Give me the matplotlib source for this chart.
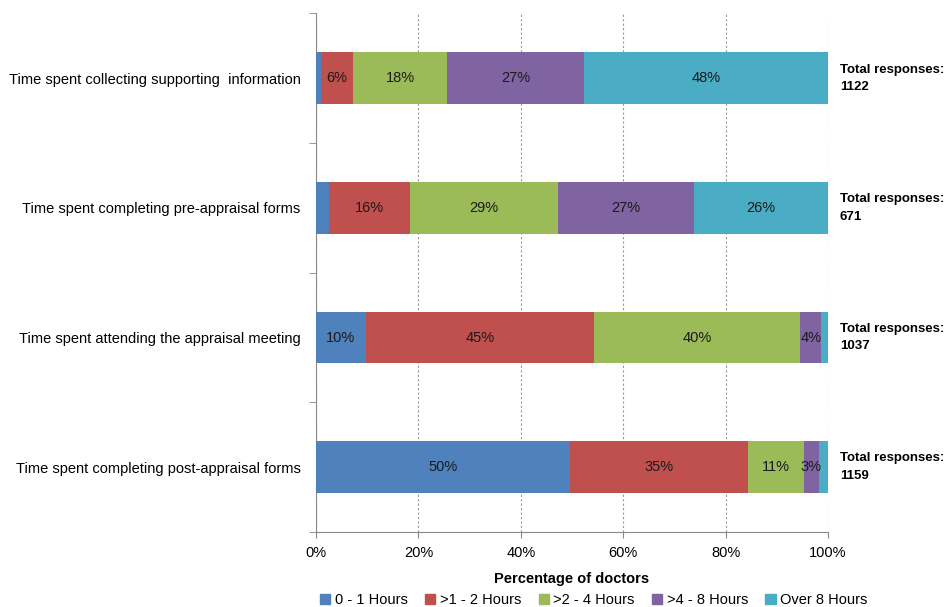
import numpy as np
import matplotlib.pyplot as plt
from matplotlib.patches import Patch

plt.rcParams['font.family'] = ['Liberation Sans', 'DejaVu Sans']

categories = ['Time spent collecting supporting  information',
              'Time spent completing pre-appraisal forms',
              'Time spent attending the appraisal meeting',
              'Time spent completing post-appraisal forms']
totals = [1122, 671, 1037, 1159]
bands = ['0 - 1 Hours', '>1 - 2 Hours', '>2 - 4 Hours', '>4 - 8 Hours', 'Over 8 Hours']

# percentage of doctors in each band, one list per band (rows follow categories)
h0_1 = [1.0, 2.6, 9.7, 49.7]
h1_2 = [6.2, 15.8, 44.6, 34.7]
h2_4 = [18.4, 28.9, 40.2, 10.9]
h4_8 = [26.7, 26.6, 4.2, 2.9]
h8_plus = [47.7, 26.1, 1.3, 1.8]

colors = ['#4F81BD', '#C0504D', '#9BBB59', '#8064A2', '#4BACC6']

fig = plt.figure(figsize=(9.47, 6.07), dpi=100)
ax = fig.add_axes([0.3337, 0.1236, 0.5407, 0.8542])

y = np.arange(len(categories))
left = np.zeros(len(categories))
for vals, col in zip([h0_1, h1_2, h2_4, h4_8, h8_plus], colors):
    vals = np.array(vals)
    ax.barh(y, vals, left=left, height=0.4, color=col, zorder=3)
    for yi, v, l in zip(y, vals, left):
        # segments too thin for a label are left bare
        if v >= 2.8:
            ax.text(l + v / 2, yi, '%.0f%%' % v, ha='center', va='center',
                    fontsize=10.5, color='#1a1a1a', zorder=4)
    left += vals

for yi, t in zip(y, totals):
    ax.text(102.3, yi, 'Total responses:\n%d' % t, ha='left', va='center',
            fontsize=9.5, fontweight='bold', linespacing=1.6)

ax.set_xlim(0, 100)
ax.set_ylim(3.5, -0.5)
ax.set_xticks(np.arange(0, 101, 20))
ax.set_xticklabels(['%d%%' % v for v in range(0, 101, 20)], fontsize=10.5)
ax.set_yticks(y)
ax.set_yticks(np.arange(-0.5, 3.6, 1), minor=True)
ax.set_yticklabels(categories, fontsize=10.5)
ax.tick_params(axis='y', which='major', length=0, pad=11)
ax.tick_params(axis='y', which='minor', length=5, color='#888888')
ax.tick_params(axis='x', length=4, color='#888888', pad=6)

ax.grid(axis='x', linestyle=(0, (2, 2)), color='#999999', linewidth=0.8, zorder=0)
for s in ['top', 'right']:
    ax.spines[s].set_visible(False)
for s in ['left', 'bottom']:
    ax.spines[s].set_color('#888888')

ax.set_xlabel('Percentage of doctors', fontsize=10.5, fontweight='bold', labelpad=9)

handles = [Patch(color=c, label=b) for b, c in zip(bands, colors)]
fig.legend(handles=handles, loc='lower center', bbox_to_anchor=(0.627, -0.022),
           ncol=5, frameon=False, fontsize=10.5, handlelength=0.7, handleheight=0.7,
           handletextpad=0.3, columnspacing=1.2)

fig.savefig('out.png', dpi=100)
